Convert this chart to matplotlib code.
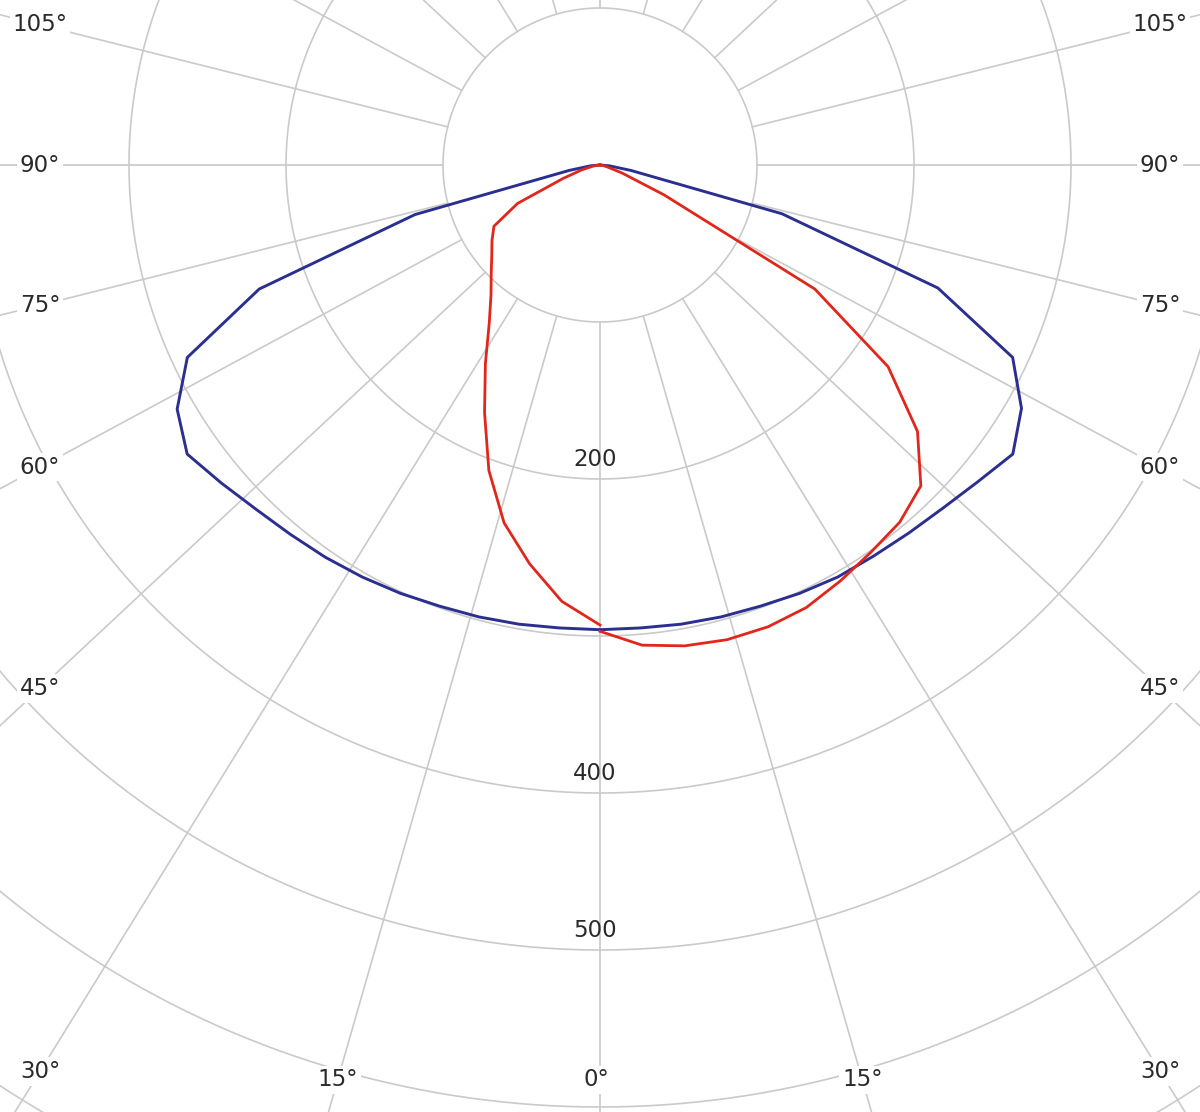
import numpy as np
import matplotlib
matplotlib.use("Agg")
import matplotlib.pyplot as plt

# ---------------- data (cd/klm), gamma every 5 degrees ----------------
gamma = [0, 5, 10, 15, 20, 25, 30, 35, 40, 45, 50, 55, 60, 65, 70, 75, 80, 85, 90]
# C0 (right) and C180 (left) plane – blue
blue_c0 = [296, 296, 297, 298, 299, 301, 303, 304, 306, 309, 314, 321, 310, 290, 229, 120, 20, 6, 0]
blue_c180 = [296, 296, 297, 298, 299, 301, 303, 305, 307, 310, 315, 321, 311, 290, 231, 122, 20, 6, 0]
# C90 (right) and C270 (left) plane – red
red_c90 = [297, 307, 311, 313, 313, 311, 306, 301, 297, 289, 264, 224, 158, 45, 15, 5, 2, 1, 0]
red_c270 = [293, 279, 258, 236, 207, 174, 146, 123, 108, 98, 90, 84, 78, 58, 25, 12, 5, 2, 0]

ring_values = [100, 200, 300, 400, 500, 600, 700]
ring_labels = [200, 400, 500]
angle_labels = [0, 15, 30, 45, 60, 75, 90, 105]
spoke_angles = list(range(0, 360, 15))

# ---------------- layout / style ----------------
W, H, DPI = 1200, 1112, 100
S = 1.57            # pixels per cd
CX, CY = 600, 165   # pixel position of the pole
SPOKE_K = 1.07      # horizontal stretch of the spoke grid seen in the reference
GRID = "#cacaca"
BLUE = "#2b2f8f"
RED = "#e1261c"
TXT = "#2a2a2a"
FS = 16.5

fig = plt.figure(figsize=(W / DPI, H / DPI), dpi=DPI)
ax = fig.add_axes([0, 0, 1, 1])
ax.set_xlim(-CX / S, (W - CX) / S)
ax.set_ylim(-(H - CY) / S, CY / S)
ax.set_aspect("equal")
ax.axis("off")

# rings
t = np.linspace(0, 2 * np.pi, 721)
for rv in ring_values:
    ax.plot(rv * np.cos(t), rv * np.sin(t), color=GRID, lw=1.2, zorder=1)

# spokes (start at the innermost ring)
def spoke_dir(a_deg, side=1):
    a = np.radians(a_deg)
    d = np.array([side * SPOKE_K * np.sin(a), -np.cos(a)])
    return d / np.hypot(*d)

r0 = ring_values[0]
for a in spoke_angles:
    d = spoke_dir(a)
    ax.plot([d[0] * r0, d[0] * 1000], [d[1] * r0, d[1] * 1000],
            color=GRID, lw=1.2, zorder=1)

# curves
def polar_xy(g, r, side):
    g = np.radians(np.asarray(g, dtype=float))
    r = np.asarray(r, dtype=float)
    return side * r * np.sin(g), -r * np.cos(g)

for vals, side in ((blue_c180, -1), (blue_c0, 1)):
    x, y = polar_xy(gamma, vals, side)
    ax.plot(x, y, color=BLUE, lw=2.1, zorder=3, solid_joinstyle="round")
for vals, side in ((red_c270, -1), (red_c90, 1)):
    x, y = polar_xy(gamma, vals, side)
    ax.plot(x, y, color=RED, lw=2.0, zorder=4, solid_joinstyle="round")

# ring value labels
for v in ring_labels:
    ax.text(-5 / S, -v + 5, str(v), ha="center", va="bottom",
            fontsize=FS, color=TXT, zorder=5)

# angle labels placed where the spoke meets an inset frame
x_lim = (CX - 40) / S
y_bot = -(1080 - CY) / S
for a in angle_labels:
    sides = (1,) if a == 0 else (-1, 1)
    for side in sides:
        d = spoke_dir(a, side)
        ts = x_lim / abs(d[0]) if abs(d[0]) > 1e-9 else np.inf
        tb = y_bot / d[1] if d[1] < 0 else np.inf
        tt = min(ts, tb)
        px, py = d * tt
        if a == 0:
            px -= 4 / S
        ax.text(px, py, f"{a}°", ha="center", va="center", fontsize=FS,
                color=TXT, zorder=6,
                bbox=dict(facecolor="white", edgecolor="none", pad=2.0))

fig.savefig("out.png", dpi=DPI, facecolor="white")
